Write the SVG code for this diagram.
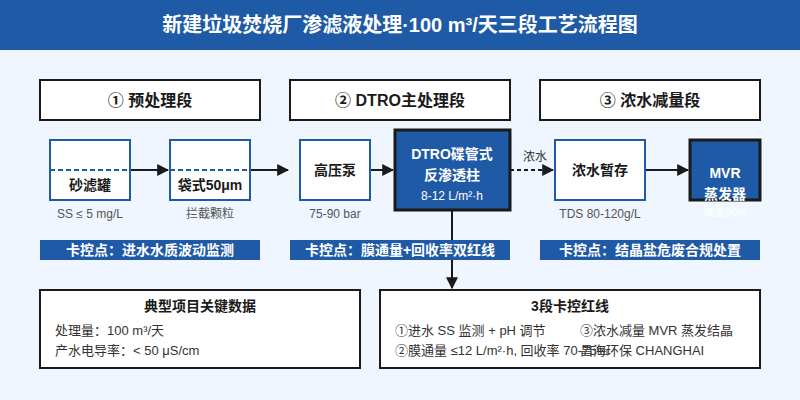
<svg xmlns="http://www.w3.org/2000/svg" width="800" height="400" viewBox="0 0 800 400">
<defs>
<marker id="ah" viewBox="0 0 10 10" refX="9" refY="5" markerWidth="6" markerHeight="6" orient="auto"><path d="M0,0 L10,5 L0,10 z" fill="#1a1a1a"/></marker>
<style>
text{font-family:"Liberation Sans","Noto Sans CJK SC",sans-serif}
.hdr{fill:#fff;stroke:#1a1a1a;stroke-width:2}
.hdrt{font-size:16px;font-weight:bold;fill:#1a1a1a;text-anchor:middle}
.nd{fill:#fff;stroke:#1f5aa6;stroke-width:2}
.ndk{fill:#1f5aa6;stroke:#1a1a1a;stroke-width:3}
.ndt{font-size:14px;font-weight:bold;fill:#1a1a1a;text-anchor:middle}
.wt{font-size:14px;font-weight:bold;fill:#fff;text-anchor:middle}
.sub{font-size:12px;fill:#555;text-anchor:middle}
.bar{fill:#1f5aa6}
.bart{font-size:14px;font-weight:bold;fill:#fff;text-anchor:middle}
.ln{stroke:#1a1a1a;stroke-width:2;fill:none}
.dash{stroke:#1f5aa6;stroke-width:2;stroke-dasharray:5,3}
.box{fill:#fff;stroke:#1a1a1a;stroke-width:2}
.bt{font-size:13px;fill:#333}
</style>
</defs>
<rect width="800" height="400" fill="#eff6ff"/>
<rect width="800" height="50" fill="#1f5aa6"/>
<text x="400" y="32" text-anchor="middle" font-size="20" font-weight="bold" fill="#fff">新建垃圾焚烧厂渗滤液处理·100 m³/天三段工艺流程图</text>

<g id="stage1"><rect class="hdr" x="40" y="80" width="220" height="40"/><text class="hdrt" x="150" y="106">① 预处理段</text></g>
<g id="stage2"><rect class="hdr" x="290" y="80" width="220" height="40"/><text class="hdrt" x="400" y="106">② DTRO主处理段</text></g>
<g id="stage3"><rect class="hdr" x="540" y="80" width="220" height="40"/><text class="hdrt" x="650" y="106">③ 浓水减量段</text></g>

<g id="connectors">
<line class="ln" x1="130" y1="170" x2="168" y2="170" marker-end="url(#ah)"/>
<line class="ln" x1="250" y1="170" x2="288" y2="170" stroke-width="3" marker-end="url(#ah)"/>
<line class="ln" x1="370" y1="170" x2="393" y2="170" marker-end="url(#ah)"/>
<line class="ln" x1="510" y1="170" x2="553" y2="170" stroke-dasharray="4,3" marker-end="url(#ah)"/>
<text x="535" y="161" text-anchor="middle" font-size="12" fill="#333">浓水</text>
<line class="ln" x1="645" y1="170" x2="688" y2="170" marker-end="url(#ah)"/>
<line class="ln" x1="452" y1="210" x2="452" y2="288" marker-end="url(#ah)"/>
</g>

<g id="sand"><rect class="nd" x="50" y="140" width="80" height="60"/><line class="dash" x1="50" y1="170" x2="130" y2="170"/><text class="ndt" x="90" y="190">砂滤罐</text><text class="sub" x="90" y="218">SS ≤ 5 mg/L</text></g>
<g id="bag"><rect class="nd" x="170" y="140" width="80" height="60"/><line class="dash" x1="170" y1="170" x2="250" y2="170"/><text class="ndt" x="210" y="190">袋式50μm</text><text class="sub" x="210" y="218">拦截颗粒</text></g>
<g id="pump"><rect class="nd" x="300" y="140" width="70" height="60"/><text class="ndt" x="335" y="175">高压泵</text><text class="sub" x="335" y="218">75-90 bar</text></g>
<g id="dtro"><rect class="ndk" x="395" y="130" width="115" height="80"/><text class="wt" x="452" y="159">DTRO碟管式</text><text class="wt" x="452" y="180">反渗透柱</text><text x="452" y="200" text-anchor="middle" font-size="12" fill="#fff">8-12 L/m²·h</text></g>
<g id="conc"><rect class="nd" x="555" y="140" width="90" height="60"/><text class="ndt" x="600" y="175">浓水暂存</text><text class="sub" x="600" y="218">TDS 80-120g/L</text></g>
<g id="mvr"><rect class="ndk" x="690" y="140" width="70" height="60"/><text class="wt" x="725" y="178">MVR</text><text class="wt" x="725" y="199">蒸发器</text><text x="725" y="216" text-anchor="middle" font-size="11" fill="#fff">减量90%</text></g>

<g id="ctrl1"><rect class="bar" x="40" y="240" width="220" height="20"/><text class="bart" x="150" y="255">卡控点：进水水质波动监测</text></g>
<g id="ctrl2"><rect class="bar" x="290" y="240" width="220" height="20"/><text class="bart" x="400" y="255">卡控点：膜通量+回收率双红线</text></g>
<g id="ctrl3"><rect class="bar" x="540" y="240" width="220" height="20"/><text class="bart" x="650" y="255">卡控点：结晶盐危废合规处置</text></g>

<g id="data"><rect class="box" x="40" y="290" width="320" height="78"/>
<text x="200" y="311" text-anchor="middle" font-size="14" font-weight="bold" fill="#1a1a1a">典型项目关键数据</text>
<text class="bt" x="55" y="335">处理量：100 m³/天</text>
<text class="bt" x="55" y="355">产水电导率：&lt; 50 μS/cm</text></g>
<g id="redline"><rect class="box" x="380" y="290" width="380" height="78"/>
<text x="570" y="311" text-anchor="middle" font-size="14" font-weight="bold" fill="#1a1a1a">3段卡控红线</text>
<text class="bt" x="395" y="335">①进水 SS 监测 + pH 调节</text>
<text class="bt" x="580" y="335">③浓水减量 MVR 蒸发结晶</text>
<text class="bt" x="395" y="355">②膜通量 ≤12 L/m²·h, 回收率 70-75%</text>
<text class="bt" x="580" y="355">昌海环保 CHANGHAI</text></g>
</svg>
